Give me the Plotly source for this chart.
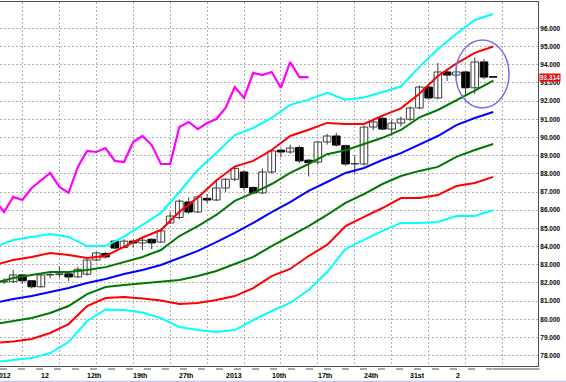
import plotly.graph_objects as go

# ---------------- data ----------------
bars = list(range(0, 54))
opens = [82.05, 82.07, 82.44, 82.12, 81.79, 82.44, 82.46, 82.50, 82.33, 82.48,
         83.26, 83.62, 84.30, 83.95, 84.30, 84.20, 84.40, 84.25, 85.30, 85.60,
         86.45, 85.90, 86.65, 86.56, 87.22, 87.70, 88.10, 87.25, 86.95, 88.10,
         89.30, 89.20, 89.45, 88.75, 88.65, 89.75, 90.08, 89.55, 88.54, 88.54,
         90.57, 91.05, 90.46, 90.79, 91.00, 91.62, 92.77, 92.17, 93.60, 93.43,
         93.60, 92.73, 94.15, 93.32]
highs = [82.25, 82.71, 82.50, 82.15, 82.50, 82.60, 82.90, 82.55, 82.90, 83.30,
         83.70, 83.70, 84.35, 84.40, 84.40, 84.45, 84.45, 84.90, 85.90, 86.60,
         86.70, 86.80, 86.90, 87.70, 87.75, 88.40, 88.20, 87.30, 88.30, 89.35,
         89.40, 89.60, 89.55, 88.80, 89.80, 90.20, 90.25, 89.60, 89.00, 90.65,
         91.00, 91.20, 90.95, 91.15, 91.70, 92.85, 92.90, 94.10, 93.75, 93.80,
         93.65, 94.40, 94.30, 93.35]
lows = [81.95, 82.00, 81.95, 81.70, 81.75, 82.25, 82.30, 82.10, 82.30, 82.40,
        83.20, 83.35, 83.85, 83.90, 83.95, 83.80, 83.85, 84.20, 85.25, 85.50,
        85.80, 85.85, 86.40, 86.50, 87.00, 87.60, 87.10, 86.90, 86.90, 88.00,
        88.90, 89.10, 88.60, 87.85, 88.50, 89.60, 89.50, 88.45, 88.00, 88.45,
        90.40, 90.40, 90.10, 90.60, 90.90, 91.55, 92.10, 92.10, 93.10, 93.30,
        92.35, 92.40, 93.20, 93.30]
closes = [82.10, 82.44, 82.12, 81.79, 82.44, 82.46, 82.50, 82.33, 82.75, 83.26,
          83.65, 83.43, 83.92, 84.30, 84.20, 84.35, 84.20, 84.86, 85.68, 86.50,
          85.90, 86.73, 86.56, 87.22, 87.70, 88.30, 87.25, 86.95, 88.10, 89.26,
          89.20, 89.42, 88.71, 88.62, 89.75, 90.08, 89.58, 88.54, 88.56, 90.57,
          90.85, 90.46, 90.79, 91.01, 91.62, 92.77, 92.17, 93.60, 93.43, 93.60,
          92.73, 94.15, 93.32, 93.314]

# Bollinger-type bands, sampled every second bar
band_x = list(range(-1, 54, 2))
upper3 = [83.98, 84.36, 84.53, 84.69, 84.53, 84.03, 84.03, 84.55, 85.19, 85.85,
          87.00, 88.21, 89.14, 90.13, 90.52, 91.07, 91.79, 92.08, 92.46, 92.08,
          92.20, 92.50, 92.80, 93.88, 94.86, 95.69, 96.46, 96.79]
upper2 = [82.99, 83.26, 83.43, 83.65, 83.54, 83.37, 83.48, 83.98, 84.50, 84.91,
          85.91, 86.70, 87.63, 88.40, 88.71, 89.31, 90.08, 90.42, 90.80, 90.74,
          90.74, 91.20, 91.60, 92.40, 93.38, 94.06, 94.65, 95.00]
upper1 = [82.00, 82.27, 82.44, 82.60, 82.60, 82.71, 82.87, 83.15, 83.43, 83.81,
          84.58, 85.13, 85.74, 86.51, 86.95, 87.44, 88.05, 88.54, 89.08, 89.30,
          89.62, 89.98, 90.41, 91.10, 91.51, 92.03, 92.58, 93.13]
middle = [80.90, 81.12, 81.28, 81.50, 81.72, 82.00, 82.22, 82.49, 82.71, 82.99,
          83.37, 83.76, 84.25, 84.75, 85.30, 85.90, 86.45, 87.06, 87.55, 88.05,
          88.32, 88.76, 89.14, 89.59, 90.08, 90.68, 91.07, 91.40]
lower1 = [79.74, 79.91, 80.07, 80.35, 80.73, 81.39, 81.78, 81.89, 81.97, 82.05,
          82.16, 82.38, 82.66, 83.04, 83.43, 84.03, 84.58, 85.13, 85.74, 86.40,
          86.89, 87.44, 87.88, 88.16, 88.38, 88.93, 89.31, 89.64]
lower2 = [78.70, 78.78, 78.92, 79.25, 79.74, 80.73, 81.17, 81.23, 81.15, 81.04,
          80.84, 80.90, 81.06, 81.28, 81.72, 82.38, 82.77, 83.48, 84.09, 85.13,
          85.63, 86.12, 86.67, 86.67, 86.83, 87.33, 87.50, 87.83]
lower3 = [77.65, 77.74, 77.87, 78.15, 78.75, 79.91, 80.54, 80.51, 80.38, 80.07,
          79.58, 79.41, 79.30, 79.41, 79.96, 80.46, 80.90, 81.61, 82.60, 83.87,
          84.36, 84.86, 85.30, 85.30, 85.35, 85.68, 85.68, 86.01]

# lagging (chikou) line
lag_x = list(range(-1, 34))
lag_vals = [86.56, 85.90, 86.73, 86.56, 87.22, 87.61, 88.05, 87.28, 86.95, 88.38,
            89.26, 89.20, 89.42, 88.71, 88.65, 89.75, 90.08, 89.58, 88.54, 88.54,
            90.57, 90.85, 90.46, 90.79, 91.01, 91.62, 92.77, 92.17, 93.55, 93.43,
            93.60, 92.73, 94.15, 93.32, 93.32]

# axis labels
y_ticks = list(range(78, 97))
x_label_bars = [-1, 4, 9, 14, 19, 24, 29, 34, 39, 44, 49]
x_label_text = ["2012", "12", "12th", "19th", "27th", "2013", "10th", "17th",
                "24th", "31st", "2"]

# ---------------- figure ----------------
X_RANGE = [-0.433, 57.85]
Y_RANGE = [77.435, 97.446]
FONT = "Liberation Sans, Arial, sans-serif"
PX_PER_BAR = 538 / (X_RANGE[1] - X_RANGE[0])

fig = go.Figure()

# wicks
wx, wy = [], []
for b, h, l in zip(bars, highs, lows):
    wx += [b, b, None]
    wy += [l, h, None]
fig.add_trace(go.Scatter(x=wx, y=wy, mode="lines",
                         line=dict(color="#3c3c3c", width=1),
                         showlegend=False, hoverinfo="skip"))

# bodies
body_base = [min(o, c) for o, c in zip(opens, closes)]
body_len = [max(abs(c - o), 0.025) for o, c in zip(opens, closes)]
body_fill = ["white" if c >= o else "black" for o, c in zip(opens, closes)]
body_line = ["#3c3c3c" if c >= o else "black" for o, c in zip(opens, closes)]
fig.add_trace(go.Bar(x=bars, y=body_len, base=body_base, width=0.82,
                     marker=dict(color=body_fill,
                                 line=dict(color=body_line, width=1)),
                     showlegend=False, hoverinfo="skip"))

band_specs = [
    (upper3, "#00ffff"), (lower3, "#00ffff"),
    (upper2, "#ff0000"), (lower2, "#ff0000"),
    (upper1, "#007800"), (lower1, "#007800"),
    (middle, "#0000ff"),
]
for vals, col in band_specs:
    fig.add_trace(go.Scatter(x=band_x, y=vals, mode="lines",
                             line=dict(color=col, width=2),
                             showlegend=False, hoverinfo="skip"))

fig.add_trace(go.Scatter(x=lag_x, y=lag_vals, mode="lines",
                         line=dict(color="#ff00ff", width=2.2),
                         showlegend=False, hoverinfo="skip"))

# highlight ellipse around the last bars
fig.add_shape(type="circle", xref="x", yref="y",
              x0=48.94, x1=54.71, y0=91.62, y1=95.36,
              line=dict(color="#7272ee", width=1.5))

# bottom period separator dashes
fig.add_shape(type="line", xref="paper", yref="paper",
              x0=0, x1=0.915, y0=-0.008, y1=-0.008,
              line=dict(color="#8c8c8c", width=1.5, dash="7px,11px"))
fig.add_shape(type="line", xref="paper", yref="paper",
              x0=0.916, x1=1.003, y0=-0.008, y1=-0.008,
              line=dict(color="#8c8c8c", width=1.5))
# thin window edge line at the very bottom
fig.add_shape(type="line", xref="paper", yref="paper",
              x0=0, x1=1.052, y0=-0.0425, y1=-0.0425,
              line=dict(color="#c4c4f0", width=1.5))

# x labels (left-aligned at the bar)
for b, t in zip(x_label_bars, x_label_text):
    if b - 0.1 < X_RANGE[0]:
        xv, xs = X_RANGE[0], (b - 0.1 - X_RANGE[0]) * PX_PER_BAR
    else:
        xv, xs = b - 0.1, 0
    fig.add_annotation(x=xv, xref="x", y=0, yref="paper", text=t,
                       xanchor="left", yanchor="middle", xshift=xs, yshift=-9,
                       showarrow=False, borderpad=0,
                       font=dict(family=FONT, size=7, color="black", weight="bold"))

# current price tag
fig.add_annotation(x=1, xref="paper", y=closes[-1], yref="y",
                   text=f"{closes[-1]:.3f}", xanchor="left", yanchor="middle",
                   xshift=1, showarrow=False, bgcolor="#ff0000", borderpad=0,
                   font=dict(family=FONT, size=6.5, color="#aaffff", weight="bold"))

fig.update_layout(
    width=566, height=382,
    margin=dict(l=0, r=28, t=2, b=16),
    paper_bgcolor="white", plot_bgcolor="white",
    xaxis=dict(range=X_RANGE,
               tickmode="array", tickvals=list(range(2, 58, 4)),
               showticklabels=False, ticks="",
               showgrid=True, gridcolor="#b0b0b0", griddash="2px,2px", gridwidth=1,
               zeroline=False, showline=True, linecolor="#505050", linewidth=1,
               mirror=True),
    yaxis=dict(range=Y_RANGE, side="right",
               tickmode="array", tickvals=y_ticks,
               ticktext=[f"{v:.3f}" for v in y_ticks], ticks="", ticklen=0,
               showgrid=True, gridcolor="#b0b0b0", griddash="2px,2px", gridwidth=1,
               zeroline=False, showline=True, linecolor="#505050", linewidth=1,
               mirror=True, ticklabelstandoff=0,
               tickfont=dict(family=FONT, size=6.5, color="black", weight="bold")),
)

fig.write_html("out.html",
               config={"displayModeBar": False},
               post_script="document.body.style.margin='0';"
                           "document.body.style.overflow='hidden';")
